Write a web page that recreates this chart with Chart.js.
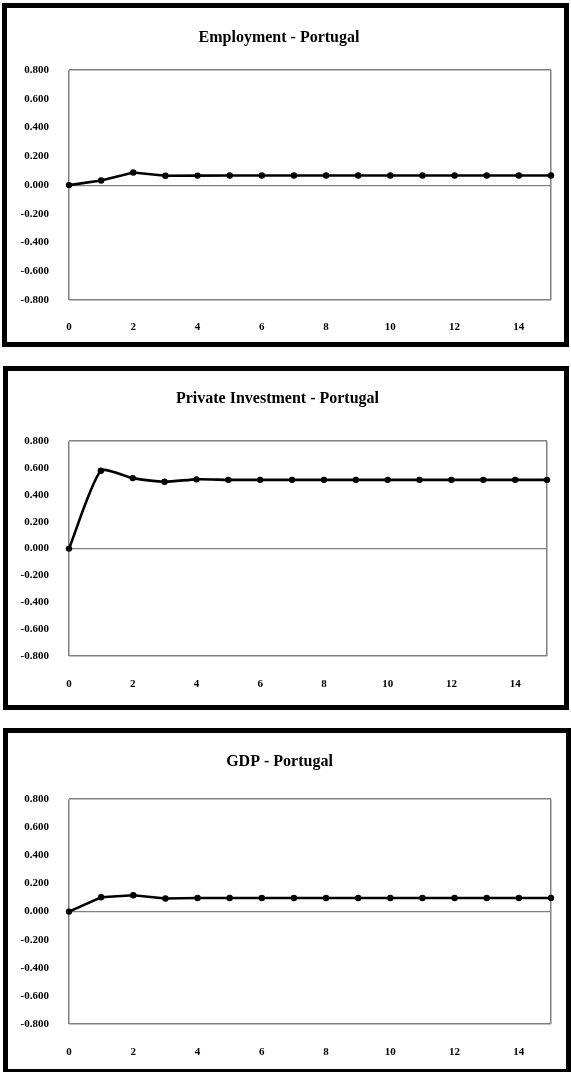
<!DOCTYPE html>
<html>
<head>
<meta charset="utf-8">
<script src="https://cdn.jsdelivr.net/npm/chart.js@4.4.1/dist/chart.umd.min.js"></script>
<style>
  html, body { margin: 0; padding: 0; background: #fff; }
  body { width: 571px; height: 1072px; position: relative; overflow: hidden; }
  .panel { position: absolute; border: 5px solid #000; box-sizing: border-box; background: #fff; }
  .panel canvas { display: block; }
</style>
</head>
<body>
<div class="panel" id="p1"><canvas id="c1"></canvas></div>
<div class="panel" id="p2"><canvas id="c2"></canvas></div>
<div class="panel" id="p3"><canvas id="c3"></canvas></div>
<script>
// ---- data ----
const periods = [0, 1, 2, 3, 4, 5, 6, 7, 8, 9, 10, 11, 12, 13, 14, 15];
const employment = [0.000, 0.032, 0.088, 0.065, 0.066, 0.067, 0.067, 0.067, 0.067, 0.067, 0.067, 0.067, 0.067, 0.067, 0.067, 0.067];
const privateInvestment = [0.000, 0.580, 0.525, 0.498, 0.516, 0.512, 0.512, 0.512, 0.512, 0.512, 0.512, 0.512, 0.512, 0.512, 0.512, 0.512];
const gdp = [0.000, 0.102, 0.116, 0.093, 0.097, 0.097, 0.097, 0.097, 0.097, 0.097, 0.097, 0.097, 0.097, 0.097, 0.097, 0.097];
const yTickValues = [-0.8, -0.6, -0.4, -0.2, 0.0, 0.2, 0.4, 0.6, 0.8];
const xTickValues = [0, 2, 4, 6, 8, 10, 12, 14];
const titles = ['Employment - Portugal', 'Private Investment - Portugal', 'GDP - Portugal'];

// ---- layout (page pixels) ----
const BW = 5;
const panels = [
  { id: 'p1', canvas: 'c1', box: { x: 2, y: 3, w: 567, h: 344 }, area: { l: 69, r: 551, t: 70, b: 300 }, titleY: 38, xlabY: 327, values: employment, tension: 0 },
  { id: 'p2', canvas: 'c2', box: { x: 3, y: 366, w: 566, h: 344 }, area: { l: 69, r: 547, t: 441, b: 656 }, titleY: 399, xlabY: 684, values: privateInvestment, tension: 0.2 },
  { id: 'p3', canvas: 'c3', box: { x: 3, y: 728, w: 568, h: 346 }, area: { l: 69, r: 551, t: 799, b: 1024 }, titleY: 762, xlabY: 1052, values: gdp, tension: 0 }
];

Chart.defaults.color = '#000';
Chart.defaults.font.family = "'Liberation Serif', 'DejaVu Serif', serif";

const GRAY = '#808080';
const TICK_FONT = { family: "'Liberation Serif', serif", size: 11, weight: 'bold', lineHeight: 1.2 };
const TITLE_SIZE = 16;
const TITLE_LH = Math.round(TITLE_SIZE * 1.2);

panels.forEach((p, i) => {
  const div = document.getElementById(p.id);
  div.style.left = p.box.x + 'px';
  div.style.top = p.box.y + 'px';
  div.style.width = p.box.w + 'px';
  div.style.height = p.box.h + 'px';
  const cx = p.box.x + BW, cy = p.box.y + BW;
  const cw = p.box.w - 2 * BW, ch = p.box.h - 2 * BW;
  const canvas = document.getElementById(p.canvas);
  canvas.style.width = cw + 'px';
  canvas.style.height = ch + 'px';
  canvas.width = cw; canvas.height = ch;

  const yAxisWidth = p.area.l - cx;
  const titleTop = p.titleY - cy - TITLE_LH / 2;
  const titleBottom = p.area.t - p.titleY - TITLE_LH / 2;
  const xAxisHeight = cy + ch - p.area.b;
  const xPad = p.xlabY - p.area.b - 6.5;
  const yLabelRight = 49;

  new Chart(canvas, {
    type: 'line',
    data: {
      datasets: [{
        data: periods.map((t, k) => ({ x: t, y: p.values[k] })),
        borderColor: '#000',
        backgroundColor: '#000',
        borderWidth: 2.6,
        pointRadius: 3.2,
        pointBackgroundColor: '#000',
        pointBorderColor: '#000',
        pointBorderWidth: 0,
        tension: p.tension,
        clip: false,
        fill: false
      }]
    },
    options: {
      responsive: false,
      animation: false,
      events: [],
      layout: { padding: { left: 0, right: cx + cw - p.area.r, top: 0, bottom: 0 } },
      plugins: {
        legend: { display: false },
        tooltip: { enabled: false },
        title: {
          display: true,
          text: titles[i],
          color: '#000',
          font: { family: "'Liberation Serif', serif", size: TITLE_SIZE, weight: 'bold', lineHeight: 1.2 },
          padding: { top: titleTop, bottom: titleBottom }
        }
      },
      scales: {
        x: {
          type: 'linear',
          min: 0,
          max: 15,
          afterBuildTicks: (s) => { s.ticks = xTickValues.concat([15]).map(v => ({ value: v })); },
          afterFit: (s) => { s.height = xAxisHeight; s.paddingLeft = 0; s.paddingRight = 0; },
          ticks: {
            autoSkip: false,
            maxRotation: 0,
            padding: xPad,
            font: TICK_FONT,
            color: '#000',
            callback: (v) => (xTickValues.includes(v) ? String(v) : '')
          },
          grid: {
            drawTicks: false,
            lineWidth: 1.5,
            color: (c) => (c.tick && (c.tick.value === 0 || c.tick.value === 15) ? GRAY : 'rgba(0,0,0,0)')
          },
          border: { display: false }
        },
        y: {
          type: 'linear',
          min: -0.8,
          max: 0.8,
          afterBuildTicks: (s) => { s.ticks = yTickValues.map(v => ({ value: v })); },
          afterFit: (s) => { s.width = yAxisWidth; s.paddingTop = 0; s.paddingBottom = 0; },
          ticks: {
            padding: p.area.l - yLabelRight,
            font: TICK_FONT,
            color: '#000',
            callback: (v) => Number(v).toFixed(3)
          },
          grid: {
            drawTicks: false,
            lineWidth: (c) => (c.tick && Math.abs(c.tick.value) < 1e-9 ? 1.2 : 1.5),
            color: (c) => (c.tick && (Math.abs(c.tick.value) < 1e-9 || Math.abs(Math.abs(c.tick.value) - 0.8) < 1e-9) ? GRAY : 'rgba(0,0,0,0)')
          },
          border: { display: false }
        }
      }
    }
  });
});
</script>
</body>
</html>
